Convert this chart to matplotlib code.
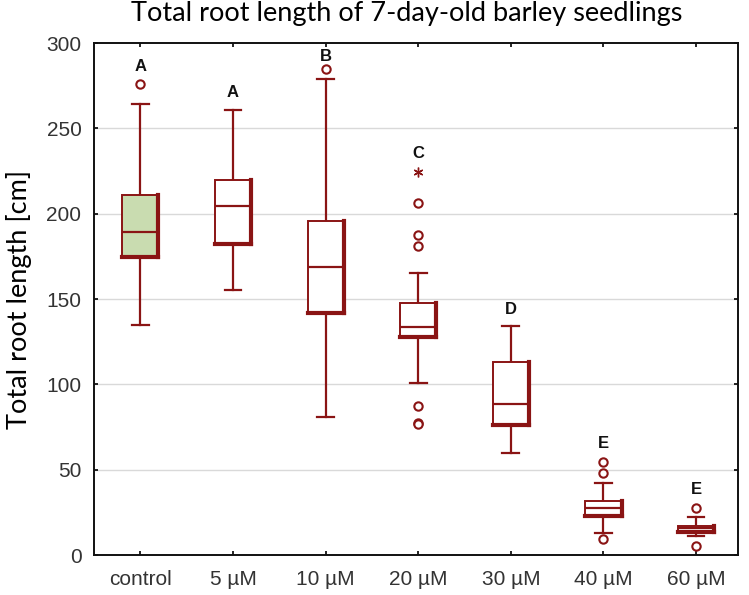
import matplotlib
matplotlib.use('Agg')
import matplotlib.pyplot as plt

# Datos
groups = ['control', '5 µM', '10 µM', '20 µM', '30 µM', '40 µM', '60 µM']
whis_low = [135, 155, 80.7, 100.6, 60, 12.7, 11.1]
q1 = [174.5, 182, 142, 128, 76, 22.8, 13.7]
median = [189, 204.5, 169, 133.4, 88.5, 27.3, 15.6]
q3 = [211, 220, 196, 147.4, 113.2, 31.6, 17]
whis_high = [264, 261, 279, 165, 134.3, 42.4, 22.4]
outliers = [[276], [], [284.5], [206, 187.5, 181, 87.5, 77.5, 77], [], [54.3, 48.2, 9.2], [27.3, 5.5]]
extremes = [[], [], [], [224.6], [], [], []]
letters = ['A', 'A', 'B', 'C', 'D', 'E', 'E']
letter_y = [286, 271, 292, 235, 144, 65.4, 38.5]

RED = '#8a1414'
GREEN = '#c9dcb0'
BOX_W = 0.39

fig = plt.figure(figsize=(7.49, 5.95), dpi=100)
ax = fig.add_axes([0.1255, 0.0672, 0.8595, 0.8605])

stats = []
for i, g in enumerate(groups):
    stats.append({'label': g, 'whislo': whis_low[i], 'q1': q1[i], 'med': median[i],
                  'q3': q3[i], 'whishi': whis_high[i], 'fliers': outliers[i]})

pos = list(range(1, len(groups) + 1))
bp = ax.bxp(stats, positions=pos, widths=BOX_W, patch_artist=True, showfliers=True,
            boxprops=dict(edgecolor=RED, linewidth=1.4, facecolor='white'),
            medianprops=dict(color=RED, linewidth=1.6),
            whiskerprops=dict(color=RED, linewidth=1.6),
            capprops=dict(color=RED, linewidth=1.6),
            capwidths=0.18,
            flierprops=dict(marker='o', markerfacecolor='white', markeredgecolor=RED,
                            markersize=6, markeredgewidth=1.5))
bp['boxes'][0].set_facecolor(GREEN)
for b in bp['boxes']:
    b.set_zorder(3)
for m in bp['medians']:
    m.set_zorder(4)

# sombra: borde derecho e inferior mas gruesos
for i, p in enumerate(pos):
    ax.plot([p + BOX_W / 2, p + BOX_W / 2], [q1[i], q3[i]], color=RED, linewidth=3.0,
            solid_capstyle='projecting', zorder=4)
    ax.plot([p - BOX_W / 2, p + BOX_W / 2], [q1[i], q1[i]], color=RED, linewidth=3.0,
            solid_capstyle='projecting', zorder=4)
    for v in extremes[i]:
        ax.plot(p, v, marker=(6, 2, 0), color=RED, markersize=7, markeredgewidth=1.0, zorder=5)
    ax.text(p, letter_y[i], letters[i], ha='center', va='center', fontsize=12,
            fontweight='bold', family='Liberation Sans', color='#111111')

ax.set_ylim(0, 300)
ax.set_xlim(0.5, 7.45)
ax.set_yticks([0, 50, 100, 150, 200, 250, 300])
ax.set_xticks(pos)
ax.set_xticklabels(groups)
for t in ax.get_xticklabels() + ax.get_yticklabels():
    t.set_family('Liberation Sans')
    t.set_fontsize(15)
    t.set_color('#333333')
ax.tick_params(direction='in', top=True, right=True, length=3, width=1.2)
ax.tick_params(axis='y', pad=9)
ax.tick_params(axis='x', pad=11)

for v in [50, 100, 150, 200, 250]:
    ax.axhline(v, color='#d9d9d9', linewidth=1.0, zorder=0)

for s in ax.spines.values():
    s.set_linewidth(1.4)
    s.set_color('#111111')

ax.set_ylabel('Total root length [cm]', fontsize=19.5, family='Lato')
ax.yaxis.set_label_coords(-0.097, 0.5)
fig.suptitle('Total root length of 7-day-old barley seedlings', fontsize=19.5,
             family='Lato', x=0.543, y=0.998)

plt.savefig('out.png', dpi=100)
plt.close()
